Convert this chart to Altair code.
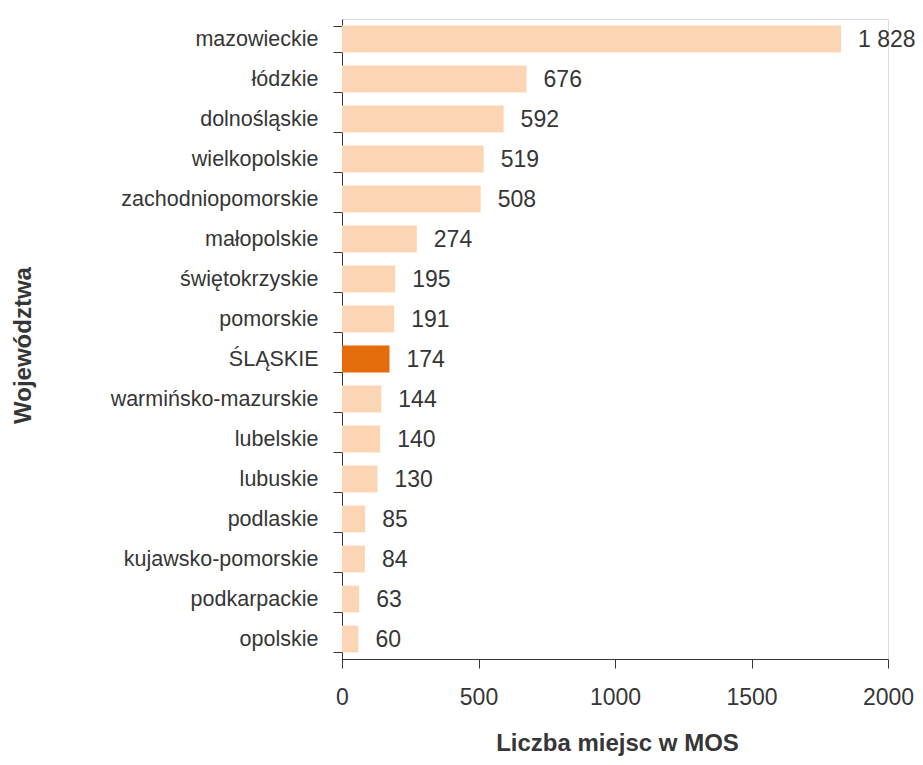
import altair as alt
import pandas as pd

regions = ["mazowieckie", "łódzkie", "dolnośląskie", "wielkopolskie", "zachodniopomorskie",
           "małopolskie", "świętokrzyskie", "pomorskie", "ŚLĄSKIE", "warmińsko-mazurskie",
           "lubelskie", "lubuskie", "podlaskie", "kujawsko-pomorskie", "podkarpackie", "opolskie"]
values = [1828, 676, 592, 519, 508, 274, 195, 191, 174, 144, 140, 130, 85, 84, 63, 60]
labels = ["1 828", "676", "592", "519", "508", "274", "195", "191", "174", "144", "140",
          "130", "85", "84", "63", "60"]
highlight = ["ŚLĄSKIE"]
x_ticks = [0, 500, 1000, 1500, 2000]

df = pd.DataFrame({"region": regions, "value": values, "label": labels})
df["hl"] = df["region"].isin(highlight).map({True: "yes", False: "no"})

FONT = "Liberation Sans"
INK = "#363636"

y_enc = alt.Y("region:N", sort=regions,
              scale=alt.Scale(paddingInner=0.33, paddingOuter=0.165),
              axis=alt.Axis(title="Województwa", tickBand="extent", tickSize=9,
                            tickColor=INK, domainColor=INK, labelPadding=15, labelLimit=0,
                            labelFont=FONT, labelFontSize=21.5, labelColor=INK,
                            titleFont=FONT, titleFontSize=24, titleFontWeight="bold",
                            titleColor=INK, titleX=-319, titleY=326,
                            titleAngle=270, titleAlign="center", titleBaseline="middle"))

x_enc = alt.X("value:Q", scale=alt.Scale(domain=[0, 2000], nice=False),
              axis=alt.Axis(title="Liczba miejsc w MOS", values=x_ticks, format="d",
                            grid=False, tickSize=9, tickColor=INK, domainColor=INK,
                            labelFont=FONT, labelFontSize=23, labelColor=INK,
                            labelPadding=18, labelFlush=False,
                            titleFont=FONT, titleFontSize=24, titleFontWeight="bold",
                            titleColor=INK, titleX=275, titleY=91,
                            titleAlign="center", titleBaseline="alphabetic"))

base = alt.Chart(df)

bars = base.mark_bar().encode(
    x=x_enc,
    y=y_enc,
    color=alt.Color("hl:N", scale=alt.Scale(domain=["no", "yes"], range=["#FCD5B5", "#E46C0A"]),
                    legend=None),
)

text = base.mark_text(align="left", baseline="middle", dx=17, dy=1, font=FONT, fontSize=23,
                      color=INK).encode(
    x="value:Q",
    y=alt.Y("region:N", sort=regions),
    text="label:N",
)

chart = (bars + text).properties(
    width=546, height=640,
    padding={"left": 334, "top": 11, "right": 27, "bottom": 98},
    autosize=alt.AutoSizeParams(type="none"),
).configure_view(strokeWidth=0, stroke="transparent").configure(background="white")

chart.save("out.html", embed_options={"renderer": "svg", "actions": False})
